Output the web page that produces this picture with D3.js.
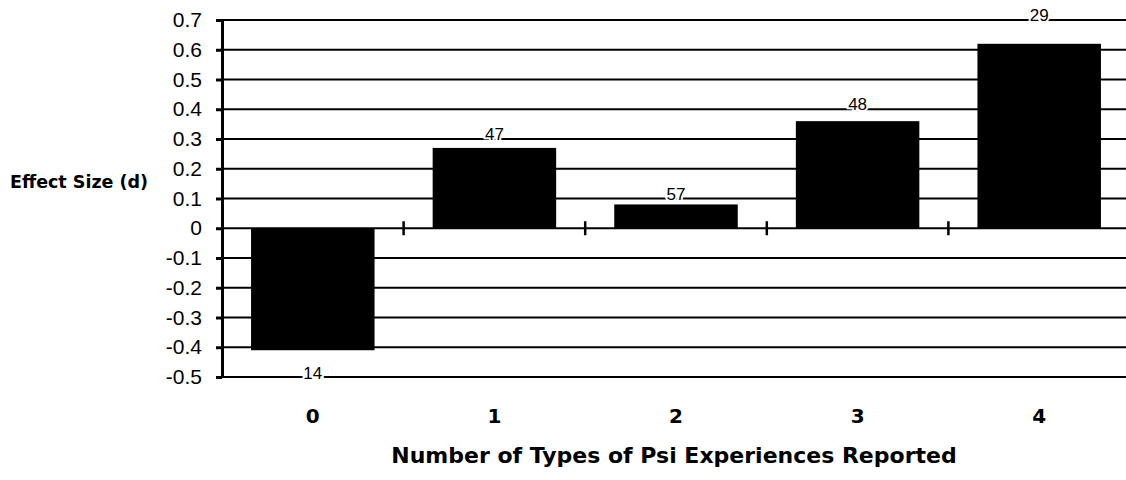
<!DOCTYPE html>
<html>
<head>
<meta charset="utf-8">
<script src="https://cdn.jsdelivr.net/npm/d3@7"></script>
<style>
  body { margin: 0; background: #fff; }
</style>
</head>
<body>
<svg id="chart"></svg>
<script>
// values
const categories = ['0', '1', '2', '3', '4'];
const effectSizes = [-0.41, 0.27, 0.08, 0.36, 0.62];
const sampleSizes = [14, 47, 57, 48, 29];
const yTickValues = [0.7, 0.6, 0.5, 0.4, 0.3, 0.2, 0.1, 0, -0.1, -0.2, -0.3, -0.4, -0.5];
const yTickLabels = ['0.7', '0.6', '0.5', '0.4', '0.3', '0.2', '0.1', '0', '-0.1', '-0.2', '-0.3', '-0.4', '-0.5'];

class EffectChart {
  constructor(config, data) {
    this.config = {
      parent: config.parent,
      width: config.width || 1126,
      height: config.height || 480,
      margin: config.margin || {top: 20, right: -4, bottom: 103, left: 222},
      ylabel: config.ylabel || "",
      xlabel: config.xlabel || "",
    };
    this.data = data;
    this.init();
  }

  init() {
    let self = this;

    self.svg = d3.select(self.config.parent)
      .attr('width', self.config.width)
      .attr('height', self.config.height);

    self.chart = self.svg.append('g')
      .attr('transform', `translate(${self.config.margin.left}, ${self.config.margin.top})`);

    self.inner_width = self.config.width - self.config.margin.left - self.config.margin.right;
    self.inner_height = self.config.height - self.config.margin.top - self.config.margin.bottom;

    self.yscale = d3.scaleLinear()
      .domain([-0.5, 0.7])
      .range([self.inner_height, 0]);

    self.xscale = d3.scaleBand()
      .domain(self.data.map(d => d.cat))
      .range([0, self.inner_width])
      .paddingInner(0.32)
      .paddingOuter(0.16);

    self.yaxis = d3.axisLeft(self.yscale)
      .tickValues(yTickValues)
      .tickFormat((d, i) => yTickLabels[i])
      .tickSize(6)
      .tickPadding(14)
      .tickSizeOuter(0);

    self.grid_group = self.chart.append('g');
    self.bar_group = self.chart.append('g');
    self.yaxis_group = self.chart.append('g');
    self.label_group = self.chart.append('g');

    self.labels = self.svg.append('g');

    self.labels.append('text')
      .attr('x', 10)
      .attr('y', self.config.margin.top + self.yscale(0.155) + 6)
      .attr('font-family', 'DejaVu Sans, sans-serif')
      .attr('font-weight', 'bold')
      .attr('font-size', '17.5px')
      .text(self.config.ylabel);

    self.labels.append('text')
      .attr('x', self.config.margin.left + (self.config.width - self.config.margin.left) / 2)
      .attr('y', 463)
      .style('text-anchor', 'middle')
      .attr('font-family', 'DejaVu Sans, sans-serif')
      .attr('font-weight', 'bold')
      .attr('font-size', '22px')
      .text(self.config.xlabel);
  }

  render() {
    let self = this;
    const gridRight = self.config.width - self.config.margin.left;

    // horizontal rules
    self.grid_group.selectAll('line')
      .data(yTickValues)
      .join('line')
      .attr('x1', 0)
      .attr('x2', gridRight)
      .attr('y1', d => self.yscale(d))
      .attr('y2', d => self.yscale(d))
      .attr('stroke', '#000')
      .attr('stroke-width', 1.8);

    // ticks on the zero line between categories
    const step = self.xscale.step();
    self.grid_group.selectAll('line.sep')
      .data(self.data.slice(1))
      .join('line')
      .attr('class', 'sep')
      .attr('x1', d => self.xscale(d.cat) - step * self.xscale.paddingInner() / 2)
      .attr('x2', d => self.xscale(d.cat) - step * self.xscale.paddingInner() / 2)
      .attr('y1', self.yscale(0) - 7)
      .attr('y2', self.yscale(0) + 7)
      .attr('stroke', '#000')
      .attr('stroke-width', 2.5);

    self.bar_group.selectAll('rect')
      .data(self.data)
      .join('rect')
      .attr('x', d => self.xscale(d.cat))
      .attr('y', d => self.yscale(Math.max(0, d.value)))
      .attr('width', self.xscale.bandwidth())
      .attr('height', d => Math.abs(self.yscale(d.value) - self.yscale(0)))
      .attr('fill', '#000');

    self.yaxis_group.call(self.yaxis);
    self.yaxis_group.select('.domain')
      .attr('stroke-width', 3);
    self.yaxis_group.selectAll('.tick line')
      .attr('stroke-width', 3);
    self.yaxis_group.selectAll('.tick text')
      .attr('font-family', 'Liberation Sans, Arial, sans-serif')
      .attr('font-size', '21px')
      .attr('fill', '#000');

    // N counts sit on the next rule beyond each bar
    self.label_group.selectAll('text.n')
      .data(self.data)
      .join('text')
      .attr('class', 'n')
      .attr('x', d => self.xscale(d.cat) + self.xscale.bandwidth() / 2)
      .attr('y', d => d.value >= 0
        ? self.yscale(Math.ceil(d.value * 10 - 1e-9) / 10) + 1
        : self.yscale(Math.floor(d.value * 10 + 1e-9) / 10) + 2)
      .style('text-anchor', 'middle')
      .attr('font-family', 'Liberation Sans, Arial, sans-serif')
      .attr('font-size', '17px')
      .attr('fill', '#000')
      .attr('stroke', '#fff')
      .attr('stroke-width', 4)
      .attr('paint-order', 'stroke')
      .text(d => d.n);

    self.label_group.selectAll('text.cat')
      .data(self.data)
      .join('text')
      .attr('class', 'cat')
      .attr('x', d => self.xscale(d.cat) + self.xscale.bandwidth() / 2)
      .attr('y', 423 - self.config.margin.top)
      .style('text-anchor', 'middle')
      .attr('font-family', 'DejaVu Sans, sans-serif')
      .attr('font-weight', 'bold')
      .attr('font-size', '20px')
      .text(d => d.cat);
  }
}

const data = categories.map((c, i) => ({cat: c, value: effectSizes[i], n: sampleSizes[i]}));

const chart = new EffectChart({
  parent: '#chart',
  width: 1126,
  height: 480,
  ylabel: 'Effect Size (d)',
  xlabel: 'Number of Types of Psi Experiences Reported'
}, data);
chart.render();
</script>
</body>
</html>
